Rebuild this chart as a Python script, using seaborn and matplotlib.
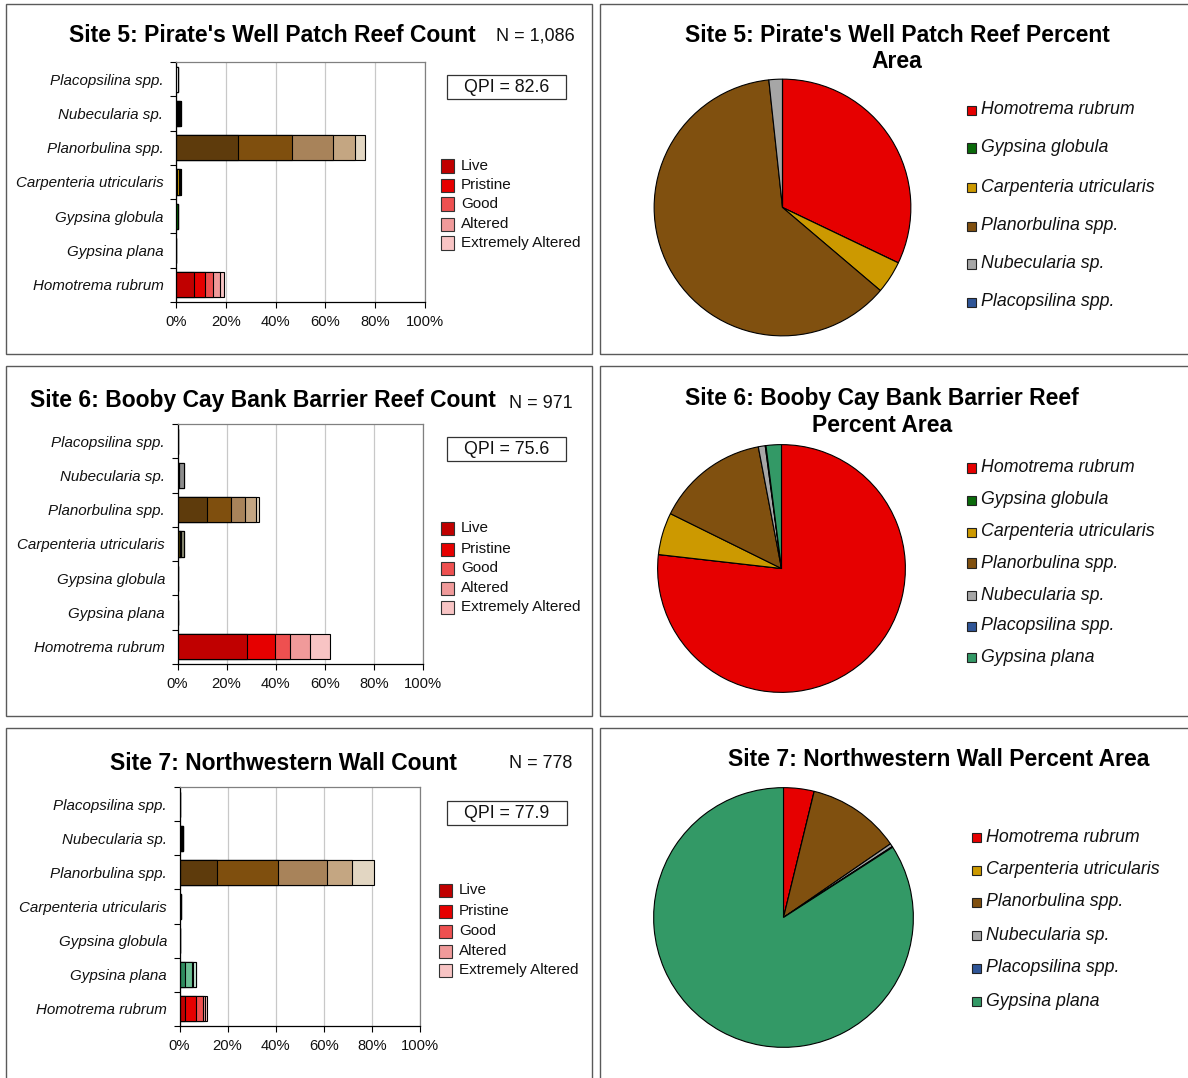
import matplotlib
matplotlib.use("Agg")
import matplotlib.pyplot as plt
from matplotlib.patches import Rectangle
from matplotlib.ticker import PercentFormatter, FixedLocator
import seaborn as sns

sns.set_theme(style="white")
plt.rcParams["font.family"] = ["Liberation Sans", "DejaVu Sans"]

# ---------------------------------------------------------------- data
species = ["Placopsilina spp.", "Nubecularia sp.", "Planorbulina spp.",
           "Carpenteria utricularis", "Gypsina globula", "Gypsina plana",
           "Homotrema rubrum"]
conditions = ["Live", "Pristine", "Good", "Altered", "Extremely Altered"]

# percent of counted individuals per condition class (species order as above)
site5_live = [0.9, 1.4, 24.8, 0.6, 0.8, 0.0, 7.2]
site5_pristine = [0.0, 0.4, 21.6, 0.6, 0.0, 0.0, 4.4]
site5_good = [0.0, 0.3, 16.8, 0.4, 0.0, 0.0, 3.2]
site5_altered = [0.0, 0.0, 8.8, 0.4, 0.0, 0.0, 2.7]
site5_extreme = [0.0, 0.0, 4.0, 0.0, 0.0, 0.0, 1.7]

site6_live = [0.3, 0.8, 12.0, 1.0, 0.3, 0.3, 28.4]
site6_pristine = [0.0, 0.0, 9.6, 0.4, 0.0, 0.0, 11.5]
site6_good = [0.0, 1.8, 6.0, 1.4, 0.0, 0.0, 6.0]
site6_altered = [0.0, 0.0, 4.4, 0.0, 0.0, 0.0, 8.0]
site6_extreme = [0.0, 0.0, 1.3, 0.0, 0.0, 0.0, 8.4]

site7_live = [0.4, 1.5, 15.4, 0.8, 0.0, 2.2, 2.2]
site7_pristine = [0.0, 0.0, 25.7, 0.0, 0.0, 2.8, 4.5]
site7_good = [0.0, 0.0, 20.4, 0.0, 0.0, 0.8, 2.9]
site7_altered = [0.0, 0.0, 10.2, 0.0, 0.0, 0.9, 0.8]
site7_extreme = [0.0, 0.0, 9.0, 0.0, 0.0, 0.0, 0.9]

site_n = ["N = 1,086", "N = 971", "N = 778"]
site_qpi = ["QPI = 82.6", "QPI = 75.6", "QPI = 77.9"]
count_titles = ["Site 5: Pirate's Well Patch Reef Count",
                "Site 6: Booby Cay Bank Barrier Reef Count",
                "Site 7: Northwestern Wall Count"]
area_titles = ["Site 5: Pirate's Well Patch Reef Percent\nArea",
               "Site 6: Booby Cay Bank Barrier Reef\nPercent Area",
               "Site 7: Northwestern Wall Percent Area"]

# percent area covered by each taxon
area5_labels = ["Homotrema rubrum", "Gypsina globula", "Carpenteria utricularis",
                "Planorbulina spp.", "Nubecularia sp.", "Placopsilina spp."]
area5_values = [32.1, 0.0, 4.1, 62.1, 1.7, 0.0]
area6_labels = ["Homotrema rubrum", "Gypsina globula", "Carpenteria utricularis",
                "Planorbulina spp.", "Nubecularia sp.", "Placopsilina spp.",
                "Gypsina plana"]
area6_values = [76.8, 0.0, 5.5, 14.7, 0.9, 0.1, 2.0]
area7_labels = ["Homotrema rubrum", "Carpenteria utricularis", "Planorbulina spp.",
                "Nubecularia sp.", "Placopsilina spp.", "Gypsina plana"]
area7_values = [3.8, 0.0, 11.6, 0.4, 0.1, 84.1]

# ---------------------------------------------------------------- colours
shades = {
    "Placopsilina spp.": ["#FFFFFF", "#F2F2F2", "#E6E6E6", "#D9D9D9", "#CCCCCC"],
    "Nubecularia sp.": ["#000000", "#7F7F7F", "#8C8C8C", "#BFBFBF", "#D9D9D9"],
    "Planorbulina spp.": ["#5E3B0C", "#7F4F0E", "#A8835A", "#C4A682", "#E2D6C2"],
    "Carpenteria utricularis": ["#4A3A00", "#C89600", "#8A8A72", "#E0C870", "#F0E4B8"],
    "Gypsina globula": ["#006400", "#2E8B2E", "#66B266", "#99CC99", "#CCE5CC"],
    "Gypsina plana": ["#2E8B5E", "#6ABF93", "#A0D8B8", "#C2E6D2", "#E0F2E8"],
    "Homotrema rubrum": ["#C00000", "#E60000", "#EE5050", "#F09A9A", "#F8C4C4"],
}
area_colors = {
    "Homotrema rubrum": "#E60000",
    "Gypsina globula": "#0A6A0A",
    "Carpenteria utricularis": "#CC9900",
    "Planorbulina spp.": "#80500F",
    "Nubecularia sp.": "#A6A6A6",
    "Placopsilina spp.": "#2F5597",
    "Gypsina plana": "#339966",
}

W, H = 1188, 1078
fig = plt.figure(figsize=(W / 100, H / 100), dpi=100)


def fx(x):
    return x / W


def fy(y):
    return 1 - y / H


def add_px_axes(x0, y0, x1, y1):
    return fig.add_axes([fx(x0), fy(y1), fx(x1) - fx(x0), fy(y0) - fy(y1)])


def px_rect(x0, y0, x1, y1, **kw):
    fig.add_artist(Rectangle((fx(x0), fy(y1)), fx(x1) - fx(x0), fy(y0) - fy(y1),
                             transform=fig.transFigure, **kw))


# panel frames
for (x0, y0, x1, y1) in [(6, 4, 592, 354), (600, 4, 1195, 354),
                         (6, 366, 592, 716), (600, 366, 1195, 716),
                         (6, 728, 592, 1085), (600, 728, 1195, 1085)]:
    px_rect(x0, y0, x1, y1, fill=False, edgecolor="#5A5A5A", linewidth=1.0)


def count_panel(layers, box, title, title_xy, ntext, n_xy, qpi, qpi_box, leg_x, leg_ys):
    ax = add_px_axes(*box)
    cum = [0.0] * len(species)
    stacks = []
    for vals in layers:
        cum = [c + v for c, v in zip(cum, vals)]
        stacks.append(list(cum))
    # stacked bars: draw cumulative totals from outermost to innermost
    for k in range(len(layers) - 1, -1, -1):
        pal = {sp: shades[sp][k] for sp in species}
        sns.barplot(x=stacks[k], y=species, hue=species, palette=pal, order=species,
                    hue_order=species, orient="h", width=0.73, legend=False,
                    saturation=1, edgecolor="black", linewidth=0.8, ax=ax)
    ax.set_xlim(0, 100)
    ax.set_ylim(6.5, -0.5)
    ax.set_xlabel("")
    ax.set_ylabel("")
    ax.xaxis.set_major_locator(FixedLocator([0, 20, 40, 60, 80, 100]))
    ax.xaxis.set_major_formatter(PercentFormatter(decimals=0))
    ax.grid(axis="x", color="#C8C8C8", linewidth=0.9)
    ax.set_axisbelow(True)
    ax.yaxis.set_minor_locator(FixedLocator([i - 0.5 for i in range(8)]))
    ax.tick_params(axis="y", which="major", length=0, pad=9, labelsize=10.9)
    ax.tick_params(axis="y", which="minor", length=4, width=0.8, color="black",
                   direction="out", left=True)
    ax.tick_params(axis="x", which="major", length=4, width=0.8, color="black",
                   direction="out", bottom=True, labelsize=10.6, pad=5)
    for lab in ax.get_yticklabels():
        lab.set_fontstyle("italic")
        lab.set_color("#111111")
    for lab in ax.get_xticklabels():
        lab.set_color("#111111")
    for side in ["left", "bottom"]:
        ax.spines[side].set_color("black")
        ax.spines[side].set_linewidth(0.9)
    for side in ["top", "right"]:
        ax.spines[side].set_color("#808080")
        ax.spines[side].set_linewidth(0.9)

    fig.text(fx(title_xy[0]), fy(title_xy[1]), title, ha="center", va="center",
             fontsize=16.5, fontweight="bold", color="black")
    fig.text(fx(n_xy[0]), fy(n_xy[1]), ntext, ha="center", va="center",
             fontsize=13, color="#111111")
    qx0, qy0, qx1, qy1 = qpi_box
    px_rect(qx0, qy0, qx1, qy1, facecolor="white", edgecolor="#333333", linewidth=0.9)
    fig.text(fx((qx0 + qx1) / 2), fy((qy0 + qy1) / 2 + 0.5), qpi, ha="center",
             va="center", fontsize=12.8, color="#111111")
    for k, (cond, yy) in enumerate(zip(conditions, leg_ys)):
        px_rect(leg_x, yy - 6.5, leg_x + 13, yy + 6.5,
                facecolor=shades["Homotrema rubrum"][k], edgecolor="#333333",
                linewidth=0.8)
        fig.text(fx(leg_x + 20), fy(yy), cond, ha="left", va="center",
                 fontsize=11, color="#111111")


def area_panel(labels, values, center, radius, title, title_xy, leg_x, leg_ys):
    cx, cy = center
    ax = add_px_axes(cx - radius, cy - radius, cx + radius, cy + radius)
    ax.pie(values, colors=[area_colors[l] for l in labels], startangle=90,
           counterclock=False, radius=1.0,
           wedgeprops=dict(edgecolor="black", linewidth=0.8))
    ax.set_xlim(-1.005, 1.005)
    ax.set_ylim(-1.005, 1.005)
    ax.set_axis_off()
    fig.text(fx(title_xy[0]), fy(title_xy[1]), title, ha="center", va="center",
             fontsize=16.5, fontweight="bold", color="black", linespacing=1.22)
    for lab, yy in zip(labels, leg_ys):
        px_rect(leg_x, yy - 4.5, leg_x + 9, yy + 4.5, facecolor=area_colors[lab],
                edgecolor="#222222", linewidth=0.8)
        fig.text(fx(leg_x + 14), fy(yy), lab, ha="left", va="center",
                 fontsize=12.8, fontstyle="italic", color="#111111")


count_panel([site5_live, site5_pristine, site5_good, site5_altered, site5_extreme],
            (176, 62, 425, 302), count_titles[0], (272, 35), site_n[0], (535, 36),
            site_qpi[0], (447, 75, 566, 99), 441, [166, 185, 204, 224, 243])
count_panel([site6_live, site6_pristine, site6_good, site6_altered, site6_extreme],
            (177.5, 424, 423, 664), count_titles[1], (263, 401), site_n[1], (541, 403),
            site_qpi[1], (447, 437, 566, 461), 441, [528, 549, 568, 588, 607])
count_panel([site7_live, site7_pristine, site7_good, site7_altered, site7_extreme],
            (179.5, 787, 420, 1026), count_titles[2], (284, 763), site_n[2], (541, 764),
            site_qpi[2], (447, 801, 567, 825), 439, [890, 911, 931, 951, 970])

area_panel(area5_labels, area5_values, (782.5, 207.5), 129, area_titles[0], (897, 48.5),
           967, [110, 148, 187, 226, 264, 302])
area_panel(area6_labels, area6_values, (781.5, 568.5), 124.5, area_titles[1], (882, 412),
           967, [468, 500, 532, 563, 595, 626, 657])
area_panel(area7_labels, area7_values, (783.5, 917.5), 130.5, area_titles[2], (939, 760),
           972, [837, 870, 902, 935, 968, 1001])

fig.savefig("out.png", dpi=100, facecolor="white")
